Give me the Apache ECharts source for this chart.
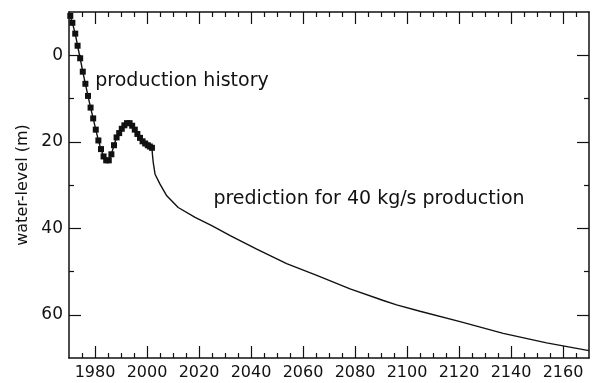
<!DOCTYPE html>
<html>
<head>
<meta charset="utf-8">
<script src="https://cdn.jsdelivr.net/npm/echarts@6/dist/echarts.min.js"></script>
<style>html,body{margin:0;padding:0;background:#fff}#c{width:596px;height:383px}</style>
</head>
<body>
<div id="c"></div>
<script>
// production history (year, water level m)
const historyYears = [1970.5,1971.3,1972.4,1973.3,1974.3,1975.3,1976.3,1977.3,1978.3,1979.3,1980.3,1981.3,1982.3,1983.3,1984.3,1985.3,1986.3,1987.3,1988.3,1989.3,1990.3,1991.3,1992.3,1993.3,1994.3,1995.3,1996.3,1997.3,1998.3,1999.3,2000.3,2001.1,2001.9];
const historyLevels = [-9.1,-7.5,-5.0,-2.2,0.7,3.8,6.6,9.4,12.1,14.6,17.2,19.7,21.7,23.4,24.3,24.3,22.9,20.8,19.0,18.0,17.0,16.2,15.7,15.7,16.3,17.2,18.2,19.1,19.9,20.4,20.8,21.1,21.4];
// prediction for 40 kg/s production
const predYears = [2001.9,2002.1,2002.4,2003.1,2005.0,2007.6,2012.0,2018.5,2024.9,2032.0,2042.2,2053.7,2065.3,2078.1,2090.9,2096.0,2105.0,2120.4,2137.0,2153.7,2170.0];
const predLevels = [21.4,23.0,24.8,27.5,29.8,32.5,35.2,37.5,39.4,41.7,44.8,48.2,50.9,54.0,56.7,57.7,59.2,61.6,64.3,66.5,68.3];
// ticks
const xMajor = [1980,2000,2020,2040,2060,2080,2100,2120,2140,2160];
const xMinor = [1975,1985,1990,1995,2005,2010,2015,2025,2030,2035,2045,2050,2055,2065,2070,2075,2085,2090,2095,2105,2110,2115,2125,2130,2135,2145,2150,2155,2165];
const yMajor = [0,20,40,60];
const yMinor = [10,30,50];
const annotations = ["production history", "prediction for 40 kg/s production"];
const yTitle = "water-level (m)";

const FONT = 'DejaVu Sans';
const INK = '#111';

function xAx(pos, ticks, len, labels, line) {
  return {
    type: 'value', position: pos, min: 1970, max: 2170,
    axisLine: {show: line, onZero: false, lineStyle: {color: INK, width: 1.5}},
    axisTick: {show: true, inside: true, length: len, customValues: ticks, lineStyle: {color: INK, width: 1.2}},
    axisLabel: labels ? {show: true, customValues: ticks, formatter: v => String(Math.round(v)), color: INK, fontFamily: FONT, fontSize: 16, margin: 7} : {show: false},
    splitLine: {show: false}
  };
}
function yAx(pos, ticks, len, labels, line, name) {
  const a = {
    type: 'value', position: pos, min: -10, max: 70, inverse: true,
    axisLine: {show: line, onZero: false, lineStyle: {color: INK, width: 1.5}},
    axisTick: {show: true, inside: true, length: len, customValues: ticks, lineStyle: {color: INK, width: 1.2}},
    axisLabel: labels ? {show: true, customValues: ticks, color: INK, fontFamily: FONT, fontSize: 17, margin: 6} : {show: false},
    splitLine: {show: false}
  };
  if (name) {
    a.name = name; a.nameLocation = 'middle'; a.nameGap = 37; a.nameRotate = 90;
    a.nameTextStyle = {color: INK, fontFamily: FONT, fontSize: 16};
  }
  return a;
}

const chart = echarts.init(document.getElementById('c'), null, {renderer: 'canvas'});
chart.setOption({
  animation: false,
  backgroundColor: '#fff',
  grid: {left: 69, right: 7, top: 12, bottom: 25, containLabel: false},
  xAxis: [
    xAx('bottom', xMajor, 12, true, true),
    xAx('bottom', xMinor, 5, false, false),
    xAx('top', xMajor, 12, false, true),
    xAx('top', xMinor, 5, false, false)
  ],
  yAxis: [
    yAx('left', yMajor, 12, true, true, yTitle),
    yAx('left', yMinor, 5, false, false),
    yAx('right', yMajor, 12, false, true),
    yAx('right', yMinor, 5, false, false)
  ],
  series: [
    {
      type: 'line', xAxisIndex: 0, yAxisIndex: 0,
      data: predYears.map((y, i) => [y, predLevels[i]]),
      showSymbol: false, symbol: 'none',
      lineStyle: {color: INK, width: 1.4}, z: 2
    },
    {
      type: 'line', xAxisIndex: 0, yAxisIndex: 0,
      data: historyYears.map((y, i) => [y, historyLevels[i]]),
      symbol: 'rect', symbolSize: 6, showAllSymbol: true,
      itemStyle: {color: INK}, lineStyle: {color: INK, width: 1.4}, z: 3
    }
  ],
  graphic: [
    {type: 'text', x: 182, y: 81, style: {text: annotations[0], fill: INK, font: '19px "DejaVu Sans"', align: 'center', verticalAlign: 'middle'}},
    {type: 'text', x: 369, y: 199, style: {text: annotations[1], fill: INK, font: '19px "DejaVu Sans"', align: 'center', verticalAlign: 'middle'}}
  ]
});
</script>
</body>
</html>
